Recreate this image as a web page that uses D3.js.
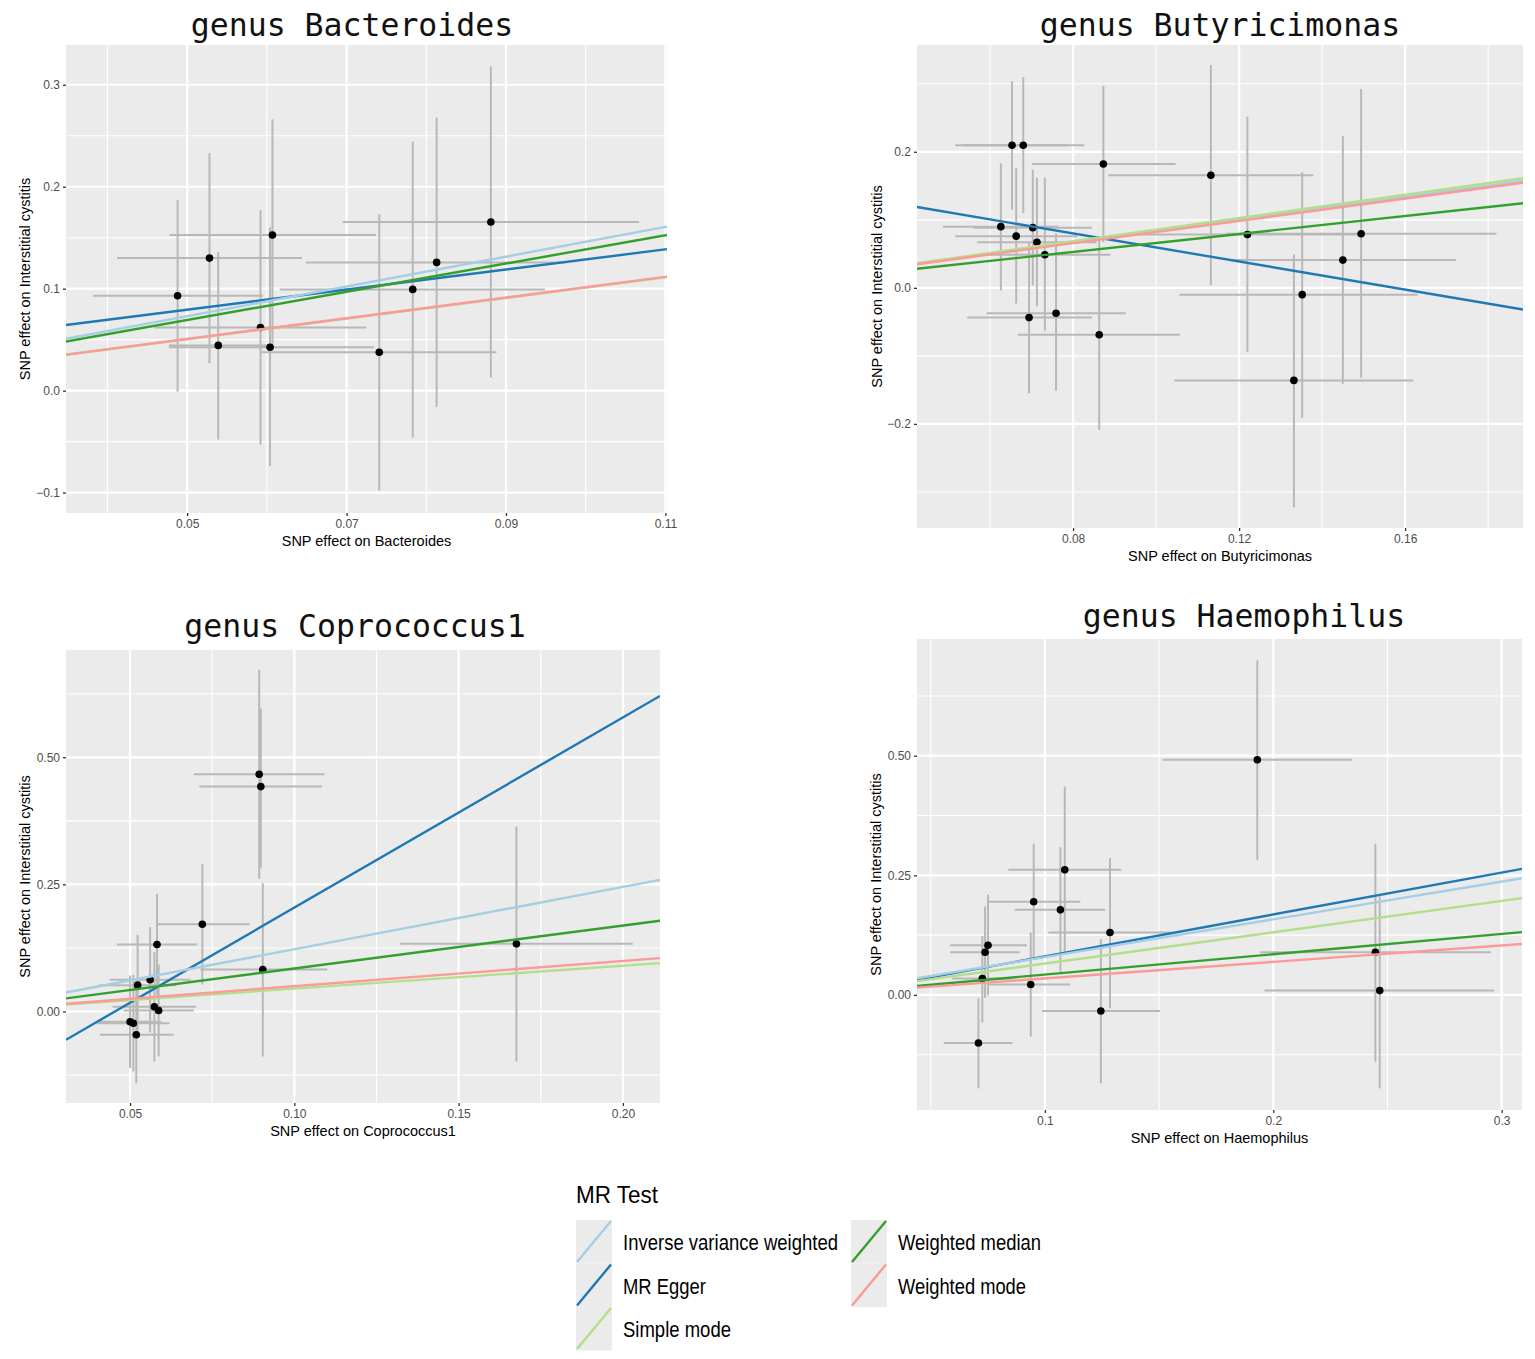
<!DOCTYPE html>
<html>
<head>
<meta charset="utf-8">
<script src="https://cdn.jsdelivr.net/npm/d3@7"></script>
<style>
  body { margin: 0; background: #fff; }
</style>
</head>
<body>
<div id="chart"></div>
<script>
// MR methods (legend order) and their colours
const methods = ["Inverse variance weighted", "MR Egger", "Simple mode", "Weighted median", "Weighted mode"];
const methodColors = ["#a6cee3", "#1f78b4", "#b2df8a", "#33a02c", "#fb9a99"];
// order the lines are drawn in (Egger, median, IVW, simple, mode)
const drawOrder = [1, 3, 0, 2, 4];

// SNPs: [beta exposure, beta outcome, x low, x high, y low, y high]
const bacteroidesSnps = [
  [0.0488, 0.0931, 0.0382, 0.0595, -0.001, 0.187],
  [0.0528, 0.130, 0.0412, 0.0644, 0.027, 0.233],
  [0.0539, 0.0444, 0.0477, 0.0602, -0.048, 0.136],
  [0.0592, 0.062, 0.0459, 0.0725, -0.053, 0.177],
  [0.0607, 0.1526, 0.0478, 0.0737, 0.040, 0.266],
  [0.0604, 0.0425, 0.0477, 0.0734, -0.074, 0.160],
  [0.0741, 0.0376, 0.0593, 0.0888, -0.098, 0.173],
  [0.0783, 0.0993, 0.0616, 0.0949, -0.046, 0.244],
  [0.0813, 0.1258, 0.0649, 0.0975, -0.016, 0.268],
  [0.0881, 0.1654, 0.0695, 0.1067, 0.013, 0.318]
];
const butyricimonasSnps = [
  [0.0653, 0.2097, 0.0516, 0.0790, 0.115, 0.304],
  [0.0680, 0.2097, 0.0533, 0.0827, 0.110, 0.310],
  [0.0626, 0.0900, 0.0487, 0.0765, -0.004, 0.183],
  [0.0663, 0.0760, 0.0516, 0.0810, -0.023, 0.176],
  [0.0703, 0.0885, 0.0560, 0.0845, 0.0035, 0.1735],
  [0.0713, 0.0670, 0.0569, 0.0857, -0.027, 0.162],
  [0.0732, 0.0487, 0.0575, 0.0890, -0.063, 0.162],
  [0.0694, -0.0437, 0.0545, 0.0845, -0.155, 0.067],
  [0.0759, -0.0373, 0.0592, 0.0927, -0.151, 0.080],
  [0.0873, 0.1820, 0.0701, 0.1047, 0.067, 0.297],
  [0.0863, -0.0690, 0.0667, 0.1057, -0.209, 0.071],
  [0.1132, 0.1655, 0.0885, 0.1379, 0.004, 0.3275],
  [0.1220, 0.0785, 0.0950, 0.1490, -0.094, 0.2515],
  [0.1450, 0.0408, 0.1177, 0.1723, -0.141, 0.223],
  [0.1494, 0.0795, 0.1168, 0.1820, -0.132, 0.292],
  [0.1352, -0.0100, 0.1056, 0.1630, -0.191, 0.170],
  [0.1332, -0.1360, 0.1044, 0.1620, -0.3225, 0.049]
];
const coprococcusSnps = [
  [0.0893, 0.4666, 0.0694, 0.1092, 0.261, 0.672],
  [0.0898, 0.4423, 0.0711, 0.1084, 0.283, 0.596],
  [0.0720, 0.1717, 0.0581, 0.0864, 0.053, 0.290],
  [0.0582, 0.1317, 0.0460, 0.0704, 0.032, 0.231],
  [0.0904, 0.0826, 0.0714, 0.1100, -0.0885, 0.2523],
  [0.1676, 0.1330, 0.1321, 0.2030, -0.0983, 0.3637],
  [0.0523, 0.0518, 0.0405, 0.0641, -0.047, 0.1507],
  [0.0561, 0.0623, 0.0438, 0.0684, -0.041, 0.1658],
  [0.0574, 0.0092, 0.0447, 0.0701, -0.0983, 0.1167],
  [0.0587, 0.0020, 0.0480, 0.0694, -0.0885, 0.0925],
  [0.0500, -0.0203, 0.0405, 0.0595, -0.111, 0.0705],
  [0.0510, -0.0230, 0.0400, 0.0620, -0.118, 0.072],
  [0.0519, -0.0459, 0.0408, 0.0633, -0.141, 0.049]
];
const haemophilusSnps = [
  [0.1930, 0.4916, 0.1515, 0.2345, 0.2824, 0.6994],
  [0.1087, 0.2615, 0.0840, 0.1334, 0.087, 0.436],
  [0.0951, 0.1946, 0.0755, 0.1155, 0.0733, 0.3159],
  [0.1068, 0.1778, 0.0868, 0.1264, 0.0466, 0.309],
  [0.1285, 0.1304, 0.1015, 0.1555, -0.0279, 0.2859],
  [0.0751, 0.1039, 0.0585, 0.0921, -0.0014, 0.2092],
  [0.0738, 0.0893, 0.0585, 0.0890, -0.0062, 0.1848],
  [0.0726, 0.0342, 0.0594, 0.0858, -0.0579, 0.1234],
  [0.0938, 0.0216, 0.0755, 0.1110, -0.0872, 0.1304],
  [0.1245, -0.0335, 0.0987, 0.1504, -0.1848, 0.1165],
  [0.0709, -0.1004, 0.0557, 0.0858, -0.1953, -0.007],
  [0.2447, 0.0893, 0.1943, 0.2953, -0.1395, 0.3159],
  [0.2466, 0.0090, 0.1962, 0.2966, -0.1953, 0.2057]
];

// MR estimates per method (legend order): [intercept, slope]
const bacteroidesLines = [[0, 1.46], [0.030, 0.987], [0, 1.01], [0, 1.385], [0, 1.015]];
const butyricimonasLines = [[0, 0.835], [0.1625, -1.031], [0, 0.855], [0, 0.66], [0, 0.82]];
const coprococcusLines = [[0, 1.225], [-0.1698, 3.741], [0, 0.45], [0, 0.845], [0, 0.497]];
const haemophilusLines = [[0, 0.79], [-0.0072, 0.8766], [0, 0.655], [0, 0.425], [0, 0.345]];

// tick values and labels
const bacteroidesXTicks = [0.05, 0.07, 0.09, 0.11];
const bacteroidesXLabels = ["0.05", "0.07", "0.09", "0.11"];
const bacteroidesYTicks = [-0.1, 0, 0.1, 0.2, 0.3];
const bacteroidesYLabels = ["\u22120.1", "0.0", "0.1", "0.2", "0.3"];
const butyricimonasXTicks = [0.08, 0.12, 0.16];
const butyricimonasXLabels = ["0.08", "0.12", "0.16"];
const butyricimonasYTicks = [-0.2, 0, 0.2];
const butyricimonasYLabels = ["\u22120.2", "0.0", "0.2"];
const coprococcusXTicks = [0.05, 0.10, 0.15, 0.20];
const coprococcusXLabels = ["0.05", "0.10", "0.15", "0.20"];
const coprococcusYTicks = [0, 0.25, 0.5];
const coprococcusYLabels = ["0.00", "0.25", "0.50"];
const haemophilusXTicks = [0.1, 0.2, 0.3];
const haemophilusXLabels = ["0.1", "0.2", "0.3"];
const haemophilusYTicks = [0, 0.25, 0.5];
const haemophilusYLabels = ["0.00", "0.25", "0.50"];

const panels = [
  { title: "genus Bacteroides", exposure: "Bacteroides", snps: bacteroidesSnps, lines: bacteroidesLines,
    xDomain: [0.0348, 0.1102], yDomain: [-0.12, 0.339],
    xTicks: bacteroidesXTicks, xLabels: bacteroidesXLabels, yTicks: bacteroidesYTicks, yLabels: bacteroidesYLabels,
    left: 66, right: 667, top: 45, bottom: 513, titleX: 352, titleY: 36, yTitleX: 30 },
  { title: "genus Butyricimonas", exposure: "Butyricimonas", snps: butyricimonasSnps, lines: butyricimonasLines,
    xDomain: [0.0424, 0.1884], yDomain: [-0.353, 0.357],
    xTicks: butyricimonasXTicks, xLabels: butyricimonasXLabels, yTicks: butyricimonasYTicks, yLabels: butyricimonasYLabels,
    left: 917, right: 1523, top: 45, bottom: 528, titleX: 1220, titleY: 36, yTitleX: 882 },
  { title: "genus Coprococcus1", exposure: "Coprococcus1", snps: coprococcusSnps, lines: coprococcusLines,
    xDomain: [0.0305, 0.2113], yDomain: [-0.18, 0.711],
    xTicks: coprococcusXTicks, xLabels: coprococcusXLabels, yTicks: coprococcusYTicks, yLabels: coprococcusYLabels,
    left: 66, right: 660, top: 650, bottom: 1103, titleX: 355, titleY: 637, yTitleX: 30 },
  { title: "genus Haemophilus", exposure: "Haemophilus", snps: haemophilusSnps, lines: haemophilusLines,
    xDomain: [0.044, 0.3089], yDomain: [-0.2406, 0.744],
    xTicks: haemophilusXTicks, xLabels: haemophilusXLabels, yTicks: haemophilusYTicks, yLabels: haemophilusYLabels,
    left: 917, right: 1522, top: 639, bottom: 1110, titleX: 1244, titleY: 627, yTitleX: 881 }
];

const W = 1535, H = 1359;
const svg = d3.select("#chart").append("svg")
  .attr("width", W)
  .attr("height", H)
  .style("font-family", "'Liberation Sans', Arial, sans-serif");

// minor breaks halfway between major breaks (like ggplot)
function minorBreaks(ticks, domain) {
  const step = ticks[1] - ticks[0];
  const out = [];
  for (let v = ticks[0] - step / 2; v <= domain[1]; v += step) {
    if (v >= domain[0]) out.push(v);
  }
  return out;
}

panels.forEach((p, pi) => {
  const x = d3.scaleLinear().domain(p.xDomain).range([p.left, p.right]);
  const y = d3.scaleLinear().domain(p.yDomain).range([p.bottom, p.top]);
  const g = svg.append("g");

  g.append("clipPath").attr("id", "clip" + pi)
    .append("rect")
    .attr("x", p.left).attr("y", p.top)
    .attr("width", p.right - p.left).attr("height", p.bottom - p.top);

  // panel background
  g.append("rect")
    .attr("x", p.left).attr("y", p.top)
    .attr("width", p.right - p.left).attr("height", p.bottom - p.top)
    .attr("fill", "#ebebeb");

  // grid lines
  const grid = g.append("g").attr("stroke", "#fff");
  minorBreaks(p.xTicks, p.xDomain).forEach(v => {
    grid.append("line").attr("x1", x(v)).attr("x2", x(v)).attr("y1", p.top).attr("y2", p.bottom).attr("stroke-width", 1.1);
  });
  minorBreaks(p.yTicks, p.yDomain).forEach(v => {
    grid.append("line").attr("y1", y(v)).attr("y2", y(v)).attr("x1", p.left).attr("x2", p.right).attr("stroke-width", 1.1);
  });
  p.xTicks.forEach(v => {
    grid.append("line").attr("x1", x(v)).attr("x2", x(v)).attr("y1", p.top).attr("y2", p.bottom).attr("stroke-width", 2.2);
  });
  p.yTicks.forEach(v => {
    grid.append("line").attr("y1", y(v)).attr("y2", y(v)).attr("x1", p.left).attr("x2", p.right).attr("stroke-width", 2.2);
  });

  // axes
  const xAxis = g.append("g")
    .attr("transform", `translate(0, ${p.bottom})`)
    .call(d3.axisBottom(x).tickValues(p.xTicks).tickFormat((d, i) => p.xLabels[i]).tickSize(3).tickPadding(3));
  const yAxis = g.append("g")
    .attr("transform", `translate(${p.left}, 0)`)
    .call(d3.axisLeft(y).tickValues(p.yTicks).tickFormat((d, i) => p.yLabels[i]).tickSize(3).tickPadding(3));
  [xAxis, yAxis].forEach(a => {
    a.select(".domain").remove();
    a.selectAll(".tick line").attr("stroke", "#333").attr("stroke-width", 1.3);
    a.selectAll(".tick text").attr("fill", "#4d4d4d").style("font-size", "12px")
      .style("font-family", "'Liberation Sans', Arial, sans-serif");
  });

  const plot = g.append("g").attr("clip-path", `url(#clip${pi})`);

  // error bars
  plot.append("g").selectAll("line.v")
    .data(p.snps).enter().append("line")
    .attr("x1", d => x(d[0])).attr("x2", d => x(d[0]))
    .attr("y1", d => y(d[4])).attr("y2", d => y(d[5]))
    .attr("stroke", "#b8b8b8").attr("stroke-width", 2);
  plot.append("g").selectAll("line.h")
    .data(p.snps).enter().append("line")
    .attr("x1", d => x(d[2])).attr("x2", d => x(d[3]))
    .attr("y1", d => y(d[1])).attr("y2", d => y(d[1]))
    .attr("stroke", "#b8b8b8").attr("stroke-width", 2);

  // points
  plot.append("g").selectAll("circle")
    .data(p.snps).enter().append("circle")
    .attr("cx", d => x(d[0])).attr("cy", d => y(d[1]))
    .attr("r", 3.8).attr("fill", "#000");

  // MR fit lines
  const line = d3.line().x(d => x(d[0])).y(d => y(d[1]));
  drawOrder.forEach(mi => {
    const [a, b] = p.lines[mi];
    const pts = p.xDomain.map(v => [v, a + b * v]);
    plot.append("path")
      .attr("d", line(pts))
      .attr("fill", "none")
      .attr("stroke", methodColors[mi])
      .attr("stroke-width", 2.4);
  });

  // titles
  g.append("text")
    .attr("x", p.titleX).attr("y", p.titleY)
    .attr("text-anchor", "middle")
    .style("font-family", "'DejaVu Sans Mono', monospace")
    .style("font-size", "31.5px")
    .attr("fill", "#111")
    .text(p.title);

  g.append("text")
    .attr("x", (p.left + p.right) / 2).attr("y", p.bottom + 33)
    .attr("text-anchor", "middle")
    .style("font-size", "14.5px")
    .attr("fill", "#000")
    .text("SNP effect on " + p.exposure);

  g.append("text")
    .attr("transform", `translate(${p.yTitleX}, ${(p.top + p.bottom) / 2}) rotate(-90)`)
    .attr("text-anchor", "middle")
    .style("font-size", "14.5px")
    .attr("fill", "#000")
    .text("SNP effect on Interstitial cystitis");
});

// legend
const legend = svg.append("g");
legend.append("text")
  .attr("x", 576).attr("y", 1203)
  .style("font-size", "24px")
  .attr("textLength", 82).attr("lengthAdjust", "spacingAndGlyphs")
  .text("MR Test");

const legendCols = [576, 851];
const legendRows = [1220, 1263.5, 1307];
const legendWidths = [215, 83, 108, 143, 128];
methods.forEach((m, i) => {
  const col = i < 3 ? 0 : 1;
  const row = i < 3 ? i : i - 3;
  const kx = legendCols[col], ky = legendRows[row];
  const item = legend.append("g");
  item.append("rect")
    .attr("x", kx).attr("y", ky).attr("width", 36).attr("height", 43.5)
    .attr("fill", "#ebebeb");
  item.append("line")
    .attr("x1", kx + 1).attr("y1", ky + 42)
    .attr("x2", kx + 35).attr("y2", ky + 1)
    .attr("stroke", methodColors[i]).attr("stroke-width", 2.4);
  item.append("text")
    .attr("x", kx + 47).attr("y", ky + 30)
    .style("font-size", "22px")
    .attr("textLength", legendWidths[i]).attr("lengthAdjust", "spacingAndGlyphs")
    .text(m);
});
</script>
</body>
</html>
